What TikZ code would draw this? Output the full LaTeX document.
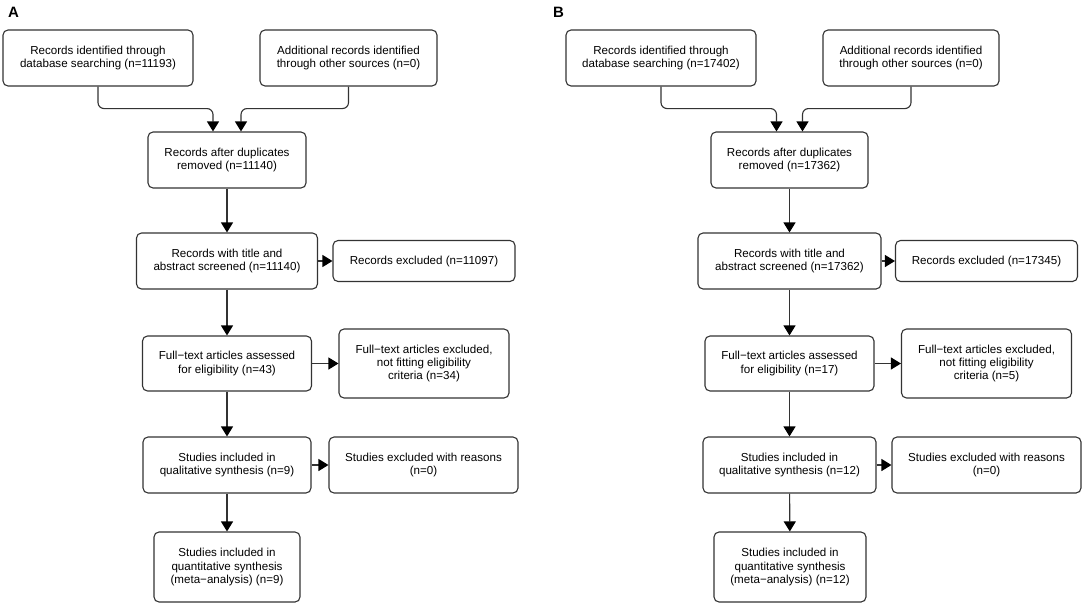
\documentclass[tikz,border=0pt]{standalone}
\usepackage{fontspec}
\setmainfont{Liberation Sans}
\usetikzlibrary{arrows.meta}
\begin{document}
\begin{tikzpicture}[x=1pt,y=-1pt,
 box/.style={draw=black!80, line width=1.1pt, rounded corners=5pt, align=center,
   font=\fontsize{11.6}{13.3}\selectfont, inner sep=0pt},
 arr/.style={draw=black!80, line width=1.1pt, -{Triangle[width=12pt,length=10pt,color=black]}},
 elbow/.style={arr, rounded corners=6pt},
 lab/.style={font=\fontsize{15}{15}\selectfont\bfseries, anchor=base west, inner sep=0pt}]
\useasboundingbox (0,0) rectangle (1084,605);
% ---------- Panel A ----------
\node[lab] (la) at (8,17.3) {A};
\node[box, minimum width=190pt, minimum height=56pt] (a1) at (98,58) {Records identified through\\database searching (n=11193)};
\node[box, minimum width=177pt, minimum height=56pt] (a2) at (348.5,58) {Additional records identified\\through other sources (n=0)};
\node[box, minimum width=158pt, minimum height=56pt] (a3) at (227,160) {Records after duplicates\\removed (n=11140)};
\node[box, minimum width=181pt, minimum height=56pt] (a4) at (227,261) {Records with title and\\abstract screened (n=11140)};
\node[box, minimum width=182pt, minimum height=41pt] (a5) at (424,261) {Records excluded (n=11097)};
\node[box, minimum width=169pt, minimum height=55pt] (a6) at (227,363.5) {Full−text articles assessed\\for eligibility (n=43)};
\node[box, minimum width=170pt, minimum height=69pt] (a7) at (424,363.5) {Full−text articles excluded,\\not fitting eligibility\\criteria (n=34)};
\node[box, minimum width=168pt, minimum height=56pt] (a8) at (227,465) {Studies included in\\qualitative synthesis (n=9)};
\node[box, minimum width=189pt, minimum height=56pt] (a9) at (423.5,465) {Studies excluded with reasons\\(n=0)};
\node[box, minimum width=146pt, minimum height=70pt] (a10) at (227,567) {Studies included in\\quantitative synthesis\\(meta−analysis) (n=9)};
\draw[elbow] (a1.south) -- ++(0,22) -| ([xshift=-14pt]a3.north);
\draw[elbow] (a2.south) -- ++(0,22) -| ([xshift=14pt]a3.north);
\draw[arr] (a3) -- (a4);
\draw[arr] (a4) -- (a5);
\draw[arr] (a4) -- (a6);
\draw[arr] (a6) -- (a7);
\draw[arr] (a6) -- (a8);
\draw[arr] (a8) -- (a9);
\draw[arr] (a8) -- (a10);
% ---------- Panel B ----------
\begin{scope}[xshift=562.5pt]
\node[lab] (lb) at (-9.5,17.3) {B};
\node[box, minimum width=190pt, minimum height=56pt] (b1) at (98.5,58) {Records identified through\\database searching (n=17402)};
\node[box, minimum width=176pt, minimum height=56pt] (b2) at (348.5,58) {Additional records identified\\through other sources (n=0)};
\node[box, minimum width=157pt, minimum height=56pt] (b3) at (227,160) {Records after duplicates\\removed (n=17362)};
\node[box, minimum width=183pt, minimum height=56pt] (b4) at (227,261) {Records with title and\\abstract screened (n=17362)};
\node[box, minimum width=182pt, minimum height=41pt] (b5) at (424,261) {Records excluded (n=17345)};
\node[box, minimum width=169pt, minimum height=55pt] (b6) at (227,363.5) {Full−text articles assessed\\for eligibility (n=17)};
\node[box, minimum width=170pt, minimum height=69pt] (b7) at (424,363.5) {Full−text articles excluded,\\not fitting eligibility\\criteria (n=5)};
\node[box, minimum width=173pt, minimum height=56pt] (b8) at (227,465) {Studies included in\\qualitative synthesis (n=12)};
\node[box, minimum width=189pt, minimum height=56pt] (b9) at (424,465) {Studies excluded with reasons\\(n=0)};
\node[box, minimum width=152pt, minimum height=70pt] (b10) at (227.5,567) {Studies included in\\quantitative synthesis\\(meta−analysis) (n=12)};
\draw[elbow] (b1.south) -- ++(0,22) -| ([xshift=-13pt]b3.north);
\draw[elbow] (b2.south) -- ++(0,22) -| ([xshift=13pt]b3.north);
\draw[arr] (b3) -- (b4);
\draw[arr] (b4) -- (b5);
\draw[arr] (b4) -- (b6);
\draw[arr] (b6) -- (b7);
\draw[arr] (b6) -- (b8);
\draw[arr] (b8) -- (b9);
\draw[arr] (b8) -- (b10);
\end{scope}
\end{tikzpicture}
\end{document}
